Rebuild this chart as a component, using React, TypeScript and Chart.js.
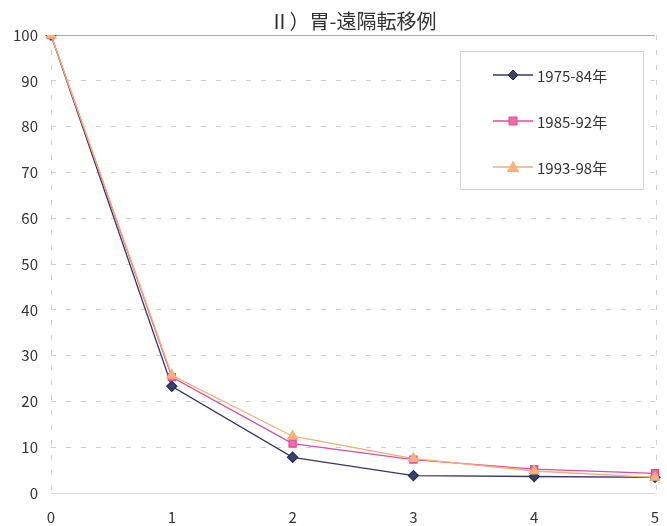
import React, { useEffect, useRef } from "react";
import { Chart, registerables } from "chart.js";

Chart.register(...registerables);

// Years after surgery
const years = ["0", "1", "2", "3", "4", "5"];
// Survival (%) by treatment period
const period1975 = [100, 23.3, 7.8, 3.8, 3.6, 3.4];
const period1985 = [100, 25.3, 10.8, 7.3, 5.2, 4.3];
const period1993 = [100, 25.7, 12.4, 7.5, 4.8, 3.4];
const seriesNames = ["1975-84年", "1985-92年", "1993-98年"];
const chartTitle = "Ⅱ）胃-遠隔転移例";
const yTicks = [0, 10, 20, 30, 40, 50, 60, 70, 80, 90, 100];

const FONT = "'Noto Sans CJK JP', 'Noto Sans', sans-serif";

function drawMarker(ctx: CanvasRenderingContext2D, style: string, x: number, y: number, r: number, fill: string, stroke: string) {
  ctx.save();
  ctx.beginPath();
  if (style === "rectRot") {
    ctx.moveTo(x, y - r);
    ctx.lineTo(x + r, y);
    ctx.lineTo(x, y + r);
    ctx.lineTo(x - r, y);
  } else if (style === "rect") {
    ctx.rect(x - r * 0.8, y - r * 0.8, r * 1.6, r * 1.6);
  } else {
    ctx.moveTo(x, y - r);
    ctx.lineTo(x + r, y + r * 0.8);
    ctx.lineTo(x - r, y + r * 0.8);
  }
  ctx.closePath();
  ctx.fillStyle = fill;
  ctx.fill();
  ctx.strokeStyle = stroke;
  ctx.lineWidth = 1;
  ctx.stroke();
  ctx.restore();
}

const decorPlugin = {
  id: "decor",
  beforeDatasetsDraw(chart: any) {
    const { ctx, chartArea } = chart;
    ctx.save();
    // plot frame: solid top line, dashed side edges, solid bottom
    ctx.strokeStyle = "#aaaaaa";
    ctx.lineWidth = 1;
    ctx.beginPath();
    ctx.moveTo(chartArea.left, chartArea.top + 0.5);
    ctx.lineTo(chartArea.right, chartArea.top + 0.5);
    ctx.stroke();
    ctx.strokeStyle = "#d0d0d0";
    ctx.setLineDash([5, 10]);
    ctx.beginPath();
    ctx.moveTo(chartArea.right + 1.5, chartArea.top);
    ctx.lineTo(chartArea.right + 1.5, chartArea.bottom);
    ctx.moveTo(chartArea.left + 0.5, chartArea.top);
    ctx.lineTo(chartArea.left + 0.5, chartArea.bottom);
    ctx.stroke();
    ctx.setLineDash([]);
    ctx.strokeStyle = "#d8d8d8";
    ctx.beginPath();
    ctx.moveTo(chartArea.left, chartArea.bottom + 0.5);
    ctx.lineTo(chartArea.right, chartArea.bottom + 0.5);
    ctx.stroke();
    ctx.restore();
  },
  afterDraw(chart: any) {
    const { ctx, chartArea } = chart;
    ctx.save();
    // title
    ctx.font = `20px ${FONT}`;
    ctx.fillStyle = "#333333";
    ctx.textAlign = "center";
    ctx.textBaseline = "middle";
    ctx.fillText(chartTitle, (chartArea.left + chartArea.right) / 2, 21);

    // legend box
    const bx = 460, by = 51, bw = 183, bh = 138;
    ctx.fillStyle = "#ffffff";
    ctx.fillRect(bx, by, bw, bh);
    ctx.strokeStyle = "#d6d6d6";
    ctx.lineWidth = 1;
    ctx.strokeRect(bx + 0.5, by + 0.5, bw, bh);
    chart.data.datasets.forEach((ds: any, i: number) => {
      const y = 75 + i * 46;
      ctx.strokeStyle = ds.borderColor;
      ctx.lineWidth = ds.borderWidth;
      ctx.beginPath();
      ctx.moveTo(493, y);
      ctx.lineTo(533, y);
      ctx.stroke();
      drawMarker(ctx, ds.pointStyle, 513, y, ds.pointRadius, ds.pointBackgroundColor, ds.pointBorderColor);
      ctx.font = `15px ${FONT}`;
      ctx.fillStyle = "#333333";
      ctx.textAlign = "left";
      ctx.textBaseline = "middle";
      ctx.fillText(ds.label, 537, y + 1);
    });
    ctx.restore();
  },
};

export default function App() {
  const canvasRef = useRef<HTMLCanvasElement | null>(null);

  useEffect(() => {
    const canvas = canvasRef.current;
    if (!canvas) return;
    const chart = new Chart(canvas, {
      type: "line",
      data: {
        labels: years,
        datasets: [
          {
            label: seriesNames[0],
            data: period1975,
            order: 2,
            borderColor: "#35386a",
            backgroundColor: "#35386a",
            pointBackgroundColor: "#3c416e",
            pointBorderColor: "#2a2d58",
            pointStyle: "rectRot",
            pointRadius: 5,
            borderWidth: 1.3,
          },
          {
            label: seriesNames[1],
            data: period1985,
            order: 1,
            borderColor: "#e04c9c",
            backgroundColor: "#f06aaa",
            pointBackgroundColor: "#f06aaa",
            pointBorderColor: "#e04c9c",
            pointStyle: "rect",
            pointRadius: 5,
            borderWidth: 1.3,
          },
          {
            label: seriesNames[2],
            data: period1993,
            order: 0,
            borderColor: "#f5ad72",
            backgroundColor: "#f8b47a",
            pointBackgroundColor: "#f8b47a",
            pointBorderColor: "#f5ad72",
            pointStyle: "triangle",
            pointRadius: 5.5,
            borderWidth: 1.3,
          },
        ],
      },
      options: {
        responsive: false,
        animation: false,
        layout: { padding: { top: 35, right: 12, left: 0, bottom: 0 } },
        plugins: {
          legend: { display: false },
          title: { display: false },
          tooltip: { enabled: false },
        },
        scales: {
          x: {
            type: "category",
            offset: false,
            afterFit: (scale: any) => {
              scale.height = 33;
            },
            grid: { display: false },
            border: { display: false },
            ticks: {
              color: "#333333",
              font: { family: FONT, size: 15 },
              padding: 7,
              maxRotation: 0,
            },
          },
          y: {
            min: 0,
            max: 100,
            afterFit: (scale: any) => {
              scale.width = 51;
            },
            afterBuildTicks: (scale: any) => {
              scale.ticks = yTicks.map((v) => ({ value: v }));
            },
            grid: {
              color: (c: any) => (c.tick && (c.tick.value === 0 || c.tick.value === 100) ? "rgba(0,0,0,0)" : "#cfcfcf"),
              lineWidth: 1,
              drawTicks: false,
            },
            border: { display: false, dash: [5, 10] },
            ticks: {
              color: "#333333",
              font: { family: FONT, size: 15 },
              padding: 13,
            },
          },
        },
      },
      plugins: [decorPlugin],
    });
    return () => chart.destroy();
  }, []);

  return (
    <div style={{ position: "absolute", left: 0, top: 0, width: 667, height: 526, background: "#ffffff" }}>
      <canvas ref={canvasRef} width={667} height={526} />
    </div>
  );
}
